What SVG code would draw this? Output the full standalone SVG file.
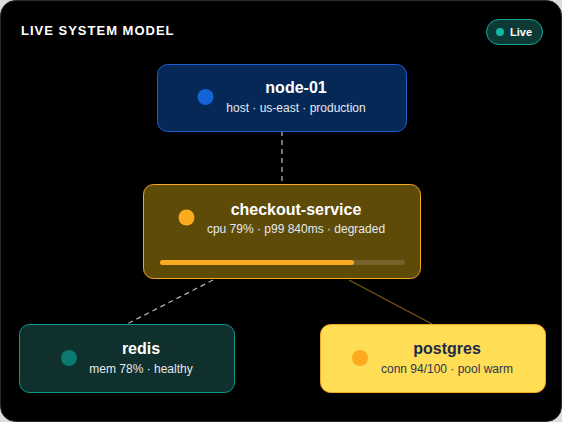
<svg xmlns="http://www.w3.org/2000/svg" width="562" height="422" viewBox="0 0 562 422">
<style>
.title{font-family:"Liberation Sans",Arial,sans-serif;font-weight:bold;font-size:16px;text-anchor:middle}
.sub{font-family:"Liberation Sans",Arial,sans-serif;font-size:12px;text-anchor:middle}
.lt{fill:#ffffff}
.ls{fill:#e6e8ee}
.node{stroke-width:1}
</style>
<rect x="0" y="0" width="562" height="422" fill="#dcdcdc"/>
<rect x="0.5" y="0.5" width="561" height="421" rx="15" fill="#000000" stroke="#2a2a2a"/>
<text x="21" y="35" font-family="Liberation Sans,Arial,sans-serif" font-weight="bold" font-size="13" letter-spacing="1" fill="#ffffff">LIVE SYSTEM MODEL</text>
<g id="badge">
<rect x="486.5" y="19.5" width="56" height="25" rx="12.5" fill="#0d3a35" stroke="#13a89a"/>
<circle cx="500" cy="32" r="4" fill="#14b8a6"/>
<text x="510" y="35.5" font-family="Liberation Sans,Arial,sans-serif" font-weight="bold" font-size="11" fill="#ffffff">Live</text>
</g>
<g id="connectors">
<line x1="282" y1="131" x2="282" y2="184" stroke="#b0b0b0" stroke-width="1.3" stroke-dasharray="5 4"/>
<line x1="213" y1="280" x2="127" y2="324" stroke="#b0b0b0" stroke-width="1.3" stroke-dasharray="5 4"/>
<line x1="349" y1="280" x2="432" y2="324" stroke="#7a5a10" stroke-width="1.3"/>
</g>
<g id="node-01">
<rect class="node" x="157.5" y="64.5" width="249" height="67" rx="10" fill="#062856" stroke="#1d5fd0"/>
<circle cx="205.5" cy="97" r="8" fill="#1463d6"/>
<text class="title lt" x="296" y="93">node-01</text>
<text class="sub ls" x="296" y="112">host · us-east · production</text>
</g>
<g id="checkout-service">
<rect class="node" x="143.5" y="184.5" width="277" height="94" rx="10" fill="#5e4b08" stroke="#f5a623"/>
<circle cx="186.5" cy="217.5" r="8" fill="#fbab1d"/>
<text class="title lt" x="296" y="215">checkout-service</text>
<text class="sub ls" x="296" y="233">cpu 79% · p99 840ms · degraded</text>
<rect x="160" y="260" width="245" height="5" rx="2.5" fill="#76622a"/>
<rect x="160" y="260" width="194" height="5" rx="2.5" fill="#fbab1d"/>
</g>
<g id="redis">
<rect class="node" x="19.5" y="324.5" width="215" height="68" rx="10" fill="#0f302c" stroke="#0e9b8f"/>
<circle cx="69" cy="358" r="8" fill="#0b7a70"/>
<text class="title lt" x="141" y="354">redis</text>
<text class="sub ls" x="141" y="373">mem 78% · healthy</text>
</g>
<g id="postgres">
<rect class="node" x="320.5" y="324.5" width="225" height="68" rx="10" fill="#ffdd55" stroke="#f0a820"/>
<circle cx="360" cy="358" r="8" fill="#fbab1d"/>
<text class="title" x="447" y="354" fill="#1e2a4a">postgres</text>
<text class="sub" x="447" y="373" fill="#2d3650">conn 94/100 · pool warm</text>
</g>
</svg>
